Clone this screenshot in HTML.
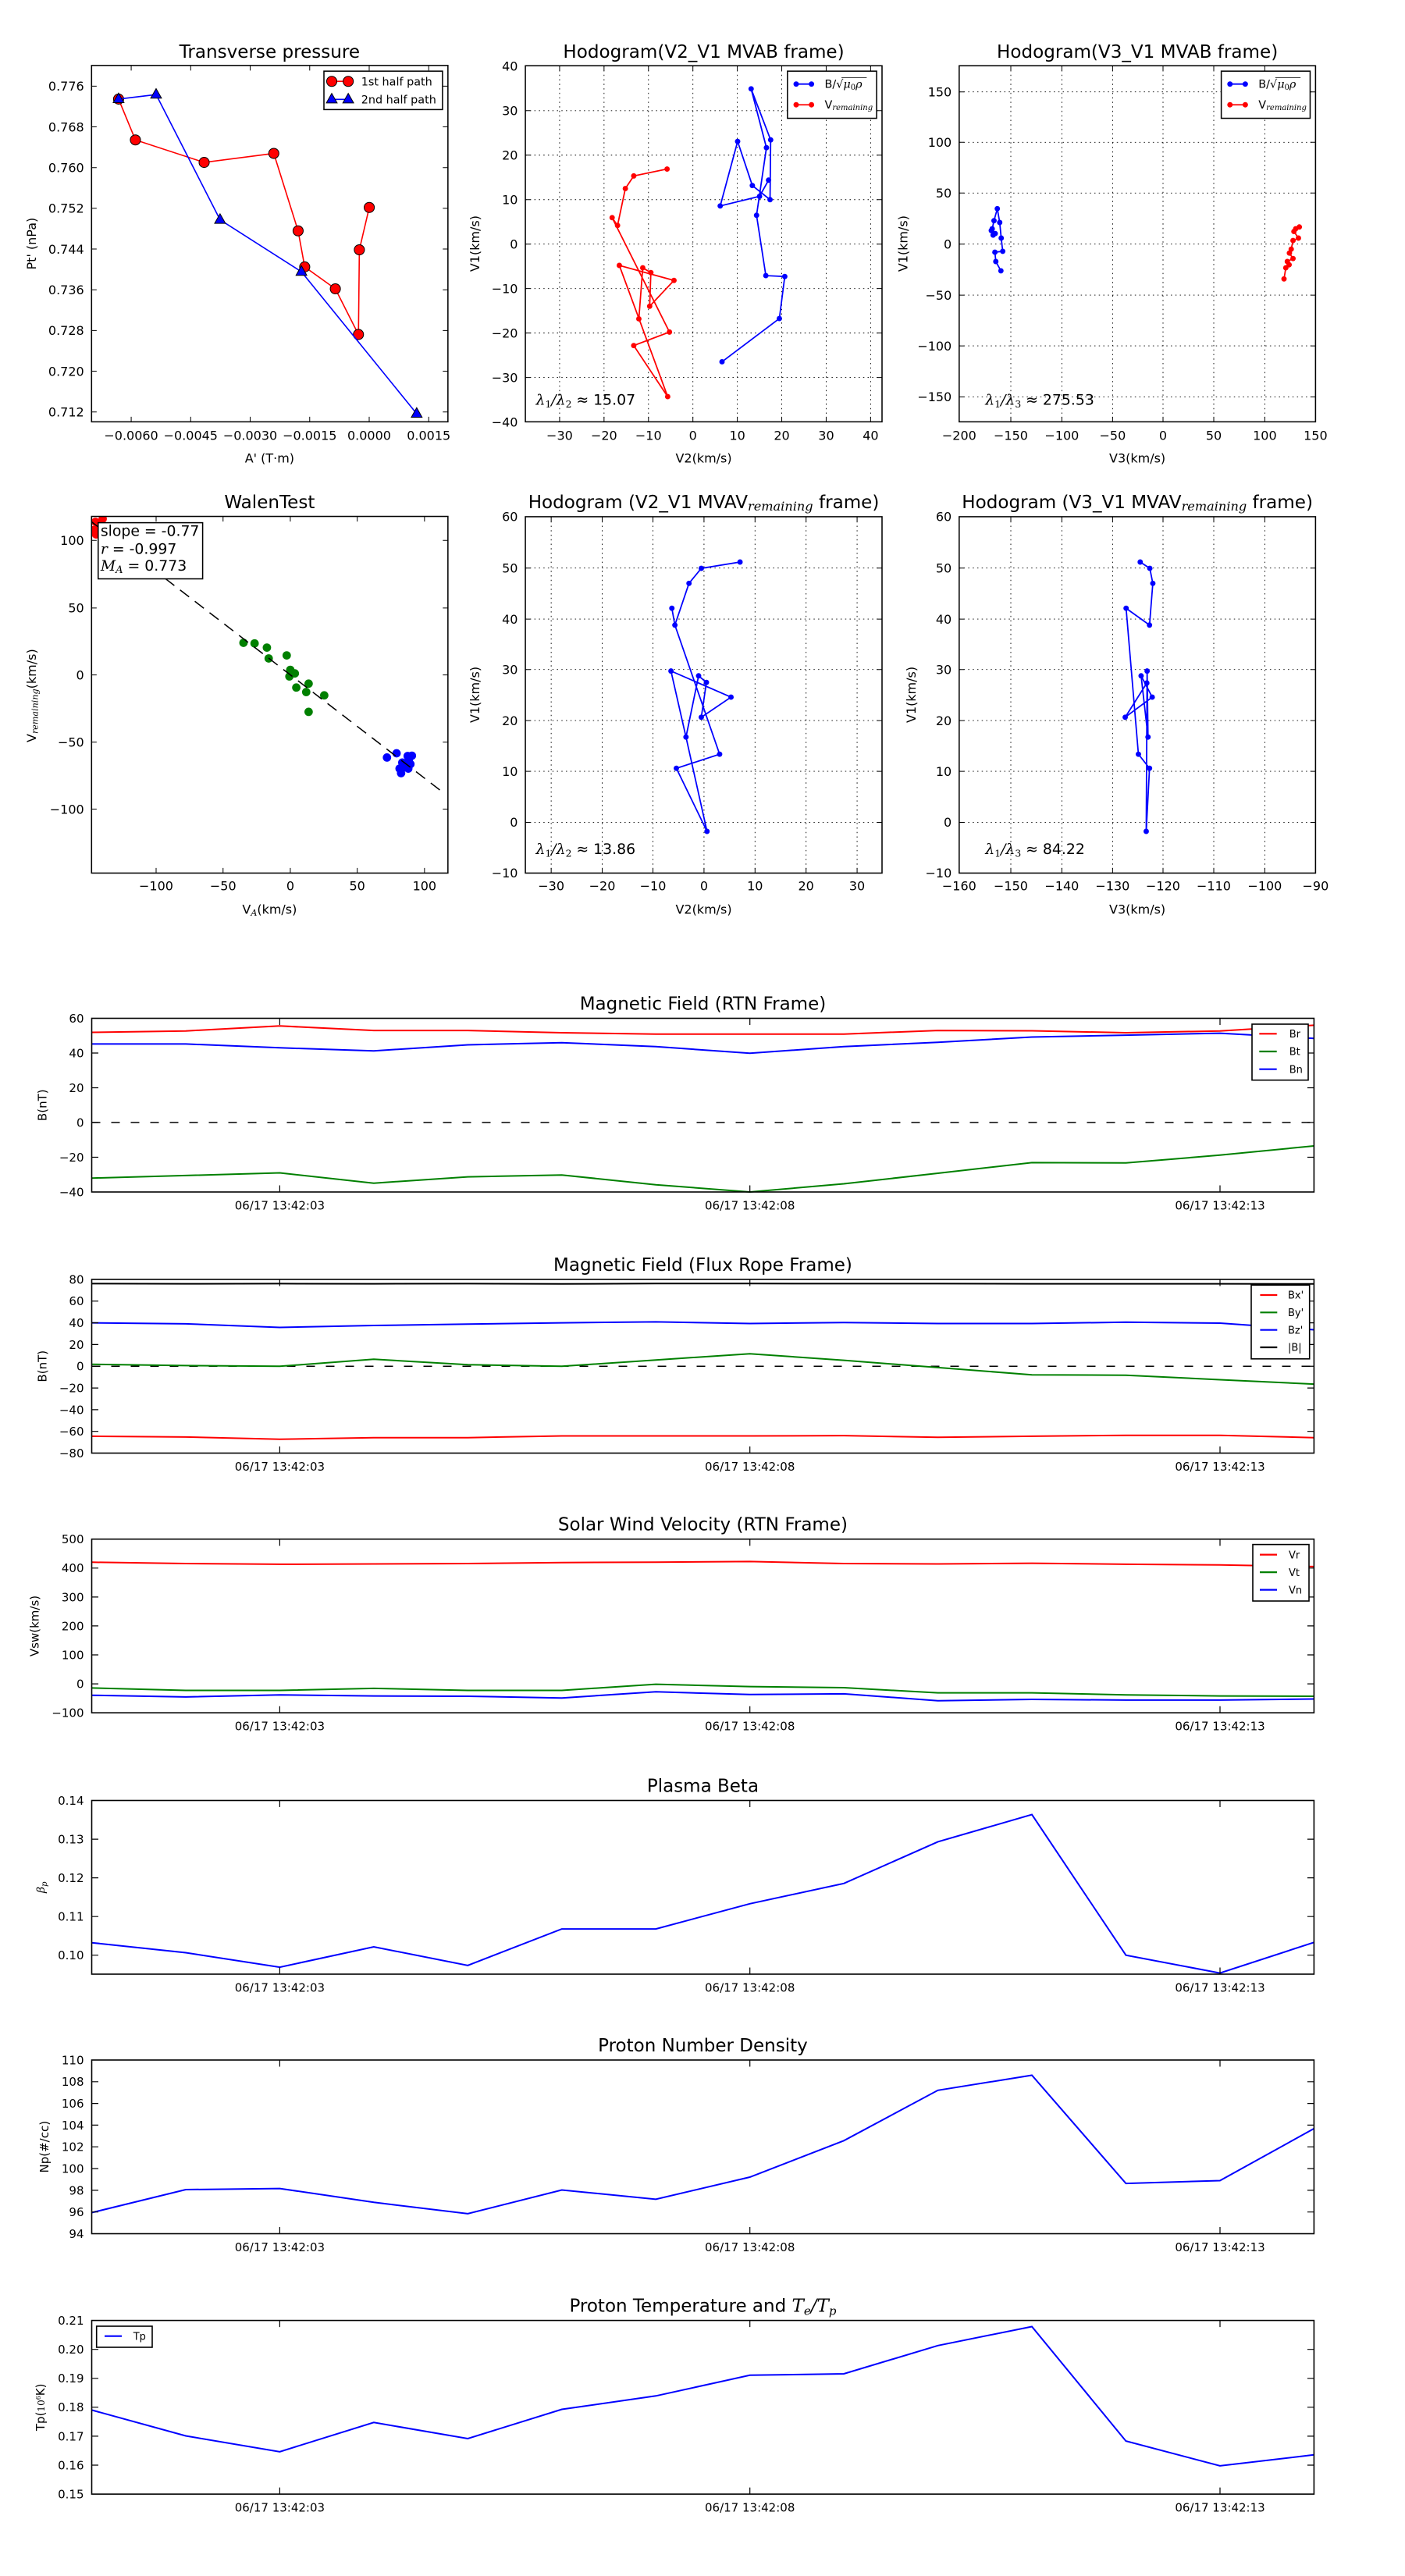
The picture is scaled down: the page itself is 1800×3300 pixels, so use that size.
<!DOCTYPE html>
<html><head><meta charset="utf-8"><style>
html,body{margin:0;padding:0;background:#fff;}
svg{display:block;}
text{font-family:"DejaVu Sans","Liberation Sans",sans-serif;fill:#000;}
.m{font-family:"DejaVu Serif","Liberation Serif",serif;font-style:italic;}
.s{font-family:"DejaVu Serif","Liberation Serif",serif;}
</style></head><body>
<svg width="1800" height="3300" viewBox="0 0 1800 3300" xmlns="http://www.w3.org/2000/svg">
<defs>
<path id="tri" d="M0,-20 L-18,12 L18,12 Z"/>
<clipPath id="c4"><rect x="305" y="160" width="1187" height="1188"/></clipPath>
</defs>
<rect width="1800" height="3300" fill="#fff"/>

<!-- ============ PLOT 1: Transverse pressure ============ -->
<g transform="scale(0.384615)">
<text x="898" y="193" font-size="60" text-anchor="middle">Transverse pressure</text>
<polyline points="1230,691 1197,832 1194,1114 1117,962 1015,889 993,769 912,511 680,541 451,466 395,330" fill="none" stroke="#f00" stroke-width="4.2"/>
<g fill="#f00" stroke="#000" stroke-width="2.6">
<circle cx="1230" cy="691" r="17"/><circle cx="1197" cy="832" r="17"/><circle cx="1194" cy="1114" r="17"/><circle cx="1117" cy="962" r="17"/><circle cx="1015" cy="889" r="17"/><circle cx="993" cy="769" r="17"/><circle cx="912" cy="511" r="17"/><circle cx="680" cy="541" r="17"/><circle cx="451" cy="466" r="17"/><circle cx="395" cy="330" r="17"/>
</g>
<polyline points="395,330 520,315 733,732 1004,905 1388,1378" fill="none" stroke="#00f" stroke-width="4.2"/>
<g fill="#00f" stroke="#000" stroke-width="2.6">
<use href="#tri" x="395" y="330"/><use href="#tri" x="520" y="315"/><use href="#tri" x="733" y="732"/><use href="#tri" x="1004" y="905"/><use href="#tri" x="1388" y="1378"/>
</g>
<rect x="305" y="218" width="1187" height="1187" fill="none" stroke="#000" stroke-width="4"/>
<path d="M437 218v17M437 1405v-17M635.2 218v17M635.2 1405v-17M833.4 218v17M833.4 1405v-17M1031.6 218v17M1031.6 1405v-17M1229.8 218v17M1229.8 1405v-17M1428 218v17M1428 1405v-17
M305 287h17M1492 287h-17M305 422.6h17M1492 422.6h-17M305 558.3h17M1492 558.3h-17M305 693.9h17M1492 693.9h-17M305 829.5h17M1492 829.5h-17M305 965.1h17M1492 965.1h-17M305 1100.8h17M1492 1100.8h-17M305 1236.4h17M1492 1236.4h-17M305 1372h17M1492 1372h-17" stroke="#000" stroke-width="2.6" fill="none"/>
<g font-size="41.6" text-anchor="middle">
<text x="437" y="1465">−0.0060</text><text x="635.2" y="1465">−0.0045</text><text x="833.4" y="1465">−0.0030</text><text x="1031.6" y="1465">−0.0015</text><text x="1229.8" y="1465">0.0000</text><text x="1428" y="1465">0.0015</text>
</g>
<g font-size="41.6" text-anchor="end">
<text x="280" y="302">0.776</text><text x="280" y="437.6">0.768</text><text x="280" y="573.3">0.760</text><text x="280" y="708.9">0.752</text><text x="280" y="844.5">0.744</text><text x="280" y="980.1">0.736</text><text x="280" y="1115.8">0.728</text><text x="280" y="1251.4">0.720</text><text x="280" y="1387">0.712</text>
</g>
<text x="898" y="1540" font-size="41.6" text-anchor="middle">A' (T·m)</text>
<text transform="translate(119.6,811.5) rotate(-90)" font-size="41.6" text-anchor="middle">Pt' (nPa)</text>
<rect x="1079" y="237" width="395" height="128" fill="#fff" stroke="#000" stroke-width="4"/>
<path d="M1105 271H1160" stroke="#f00" stroke-width="4.2"/>
<g fill="#f00" stroke="#000" stroke-width="2.6"><circle cx="1105" cy="271" r="17"/><circle cx="1160" cy="271" r="17"/></g>
<text x="1203" y="285" font-size="37.4">1st half path</text>
<path d="M1105 331H1160" stroke="#00f" stroke-width="4.2"/>
<g fill="#00f" stroke="#000" stroke-width="2.6"><use href="#tri" x="1105" y="331"/><use href="#tri" x="1160" y="331"/></g>
<text x="1203" y="345" font-size="37.4">2nd half path</text>
</g>

<!-- ============ PLOT 2: Hodogram V2_V1 MVAB ============ -->
<g transform="translate(600,0) scale(0.384615)">
<text x="784" y="193" font-size="60" text-anchor="middle">Hodogram(V2_V1 MVAB frame)</text>
<path d="M304 219V1405M452 219V1405M600 219V1405M748 219V1405M896 219V1405M1044 219V1405M1192 219V1405M1340 219V1405
M190 368.7H1378M190 516.8H1378M190 664.9H1378M190 813H1378M190 961.1H1378M190 1109.2H1378M190 1257.3H1378" stroke="#000" stroke-width="2.4" stroke-dasharray="4 11" fill="none"/>
<polyline points="662,563 551,586 523,628 497,751 479,725 670,1106 551,1151 664,1321 503,884 685,934 604,1020 608,908 581,892 568,1062" fill="none" stroke="#f00" stroke-width="4.6"/>
<g fill="#f00">
<circle cx="662" cy="563" r="9"/><circle cx="551" cy="586" r="9"/><circle cx="523" cy="628" r="9"/><circle cx="497" cy="751" r="9"/><circle cx="479" cy="725" r="9"/><circle cx="670" cy="1106" r="9"/><circle cx="551" cy="1151" r="9"/><circle cx="664" cy="1321" r="9"/><circle cx="503" cy="884" r="9"/><circle cx="685" cy="934" r="9"/><circle cx="604" cy="1020" r="9"/><circle cx="608" cy="908" r="9"/><circle cx="581" cy="892" r="9"/><circle cx="568" cy="1062" r="9"/>
</g>
<polyline points="845,1205 1036,1061 1054,921 991,918 960,717 993,492 942,296 1007,466 1005,665 946,618 897,471 839,686 970,654 1000,600" fill="none" stroke="#00f" stroke-width="4.6"/>
<g fill="#00f">
<circle cx="845" cy="1205" r="9"/><circle cx="1036" cy="1061" r="9"/><circle cx="1054" cy="921" r="9"/><circle cx="991" cy="918" r="9"/><circle cx="960" cy="717" r="9"/><circle cx="993" cy="492" r="9"/><circle cx="942" cy="296" r="9"/><circle cx="1007" cy="466" r="9"/><circle cx="1005" cy="665" r="9"/><circle cx="946" cy="618" r="9"/><circle cx="897" cy="471" r="9"/><circle cx="839" cy="686" r="9"/><circle cx="970" cy="654" r="9"/><circle cx="1000" cy="600" r="9"/>
</g>
<rect x="190" y="219" width="1188" height="1186" fill="none" stroke="#000" stroke-width="4"/>
<path d="M304 219v17M304 1405v-17M452 219v17M452 1405v-17M600 219v17M600 1405v-17M748 219v17M748 1405v-17M896 219v17M896 1405v-17M1044 219v17M1044 1405v-17M1192 219v17M1192 1405v-17M1340 219v17M1340 1405v-17
M190 368.7h17M1378 368.7h-17M190 516.8h17M1378 516.8h-17M190 664.9h17M1378 664.9h-17M190 813h17M1378 813h-17M190 961.1h17M1378 961.1h-17M190 1109.2h17M1378 1109.2h-17M190 1257.3h17M1378 1257.3h-17" stroke="#000" stroke-width="2.6" fill="none"/>
<g font-size="41.6" text-anchor="middle">
<text x="304" y="1465">−30</text><text x="452" y="1465">−20</text><text x="600" y="1465">−10</text><text x="748" y="1465">0</text><text x="896" y="1465">10</text><text x="1044" y="1465">20</text><text x="1192" y="1465">30</text><text x="1340" y="1465">40</text>
</g>
<g font-size="41.6" text-anchor="end">
<text x="165" y="235.6">40</text><text x="165" y="383.7">30</text><text x="165" y="531.8">20</text><text x="165" y="679.9">10</text><text x="165" y="828">0</text><text x="165" y="976.1">−10</text><text x="165" y="1124.2">−20</text><text x="165" y="1272.3">−30</text><text x="165" y="1420.4">−40</text>
</g>
<text x="784" y="1540" font-size="41.6" text-anchor="middle">V2(km/s)</text>
<text transform="translate(36.4,811.5) rotate(-90)" font-size="41.6" text-anchor="middle">V1(km/s)</text>
<text x="225" y="1348" font-size="49"><tspan class="m">λ</tspan><tspan class="s" font-size="32" dy="9">1</tspan><tspan class="m" dy="-9">/λ</tspan><tspan class="s" font-size="32" dy="9">2</tspan><tspan dy="-9"> ≈ 15.07</tspan></text>
<rect x="1063" y="237" width="297" height="157" fill="#fff" stroke="#000" stroke-width="4"/>
<path d="M1092 280H1143" stroke="#00f" stroke-width="4.6"/>
<circle cx="1092" cy="280" r="9" fill="#00f"/><circle cx="1143" cy="280" r="9" fill="#00f"/>
<text x="1187" y="292" font-size="37.4">B/<tspan class="s">√</tspan><tspan class="m">μ</tspan><tspan class="s" font-size="26" dy="7">0</tspan><tspan class="m" dy="-7">ρ</tspan></text>
<path d="M1243 259H1327" stroke="#000" stroke-width="2.2"/>
<path d="M1092 349H1143" stroke="#f00" stroke-width="4.6"/>
<circle cx="1092" cy="349" r="9" fill="#f00"/><circle cx="1143" cy="349" r="9" fill="#f00"/>
<text x="1187" y="361" font-size="37.4">V<tspan class="m" font-size="26" dy="6">remaining</tspan></text>
</g>

<!-- ============ PLOT 3: Hodogram V3_V1 MVAB ============ -->
<g transform="translate(1200,0) scale(0.384615)">
<text x="668.5" y="193" font-size="60" text-anchor="middle">Hodogram(V3_V1 MVAB frame)</text>
<path d="M247 219V1405M417 219V1405M586 219V1405M754 219V1405M923 219V1405M1093 219V1405
M75 306H1262M75 474H1262M75 643H1262M75 813H1262M75 983H1262M75 1152H1262M75 1322H1262" stroke="#000" stroke-width="2.4" stroke-dasharray="4 11" fill="none"/>
<polyline points="214,902 197,871 194,840 220,837 215,793 210,741 202,695 191,735 185,762 195,778 188,783 182,768" fill="none" stroke="#00f" stroke-width="4.6"/>
<g fill="#00f">
<circle cx="214" cy="902" r="9"/><circle cx="197" cy="871" r="9"/><circle cx="194" cy="840" r="9"/><circle cx="220" cy="837" r="9"/><circle cx="215" cy="793" r="9"/><circle cx="210" cy="741" r="9"/><circle cx="202" cy="695" r="9"/><circle cx="191" cy="735" r="9"/><circle cx="185" cy="762" r="9"/><circle cx="195" cy="778" r="9"/><circle cx="188" cy="783" r="9"/><circle cx="182" cy="768" r="9"/>
</g>
<polyline points="1157,929 1163,892 1174,882 1168,871 1187,861 1175,843 1181,830 1187,801 1205,793 1190,771 1196,762 1208,756" fill="none" stroke="#f00" stroke-width="4.6"/>
<g fill="#f00">
<circle cx="1157" cy="929" r="9"/><circle cx="1163" cy="892" r="9"/><circle cx="1174" cy="882" r="9"/><circle cx="1168" cy="871" r="9"/><circle cx="1187" cy="861" r="9"/><circle cx="1175" cy="843" r="9"/><circle cx="1181" cy="830" r="9"/><circle cx="1187" cy="801" r="9"/><circle cx="1205" cy="793" r="9"/><circle cx="1190" cy="771" r="9"/><circle cx="1196" cy="762" r="9"/><circle cx="1208" cy="756" r="9"/>
</g>
<rect x="75" y="219" width="1187" height="1186" fill="none" stroke="#000" stroke-width="4"/>
<path d="M247 219v17M247 1405v-17M417 219v17M417 1405v-17M586 219v17M586 1405v-17M754 219v17M754 1405v-17M923 219v17M923 1405v-17M1093 219v17M1093 1405v-17
M75 306h17M1262 306h-17M75 474h17M1262 474h-17M75 643h17M1262 643h-17M75 813h17M1262 813h-17M75 983h17M1262 983h-17M75 1152h17M1262 1152h-17M75 1322h17M1262 1322h-17" stroke="#000" stroke-width="2.6" fill="none"/>
<g font-size="41.6" text-anchor="middle">
<text x="75" y="1465">−200</text><text x="247" y="1465">−150</text><text x="417" y="1465">−100</text><text x="586" y="1465">−50</text><text x="754" y="1465">0</text><text x="923" y="1465">50</text><text x="1093" y="1465">100</text><text x="1262" y="1465">150</text>
</g>
<g font-size="41.6" text-anchor="end">
<text x="50" y="321">150</text><text x="50" y="489">100</text><text x="50" y="658">50</text><text x="50" y="828">0</text><text x="50" y="998">−50</text><text x="50" y="1167">−100</text><text x="50" y="1337">−150</text>
</g>
<text x="668.5" y="1540" font-size="41.6" text-anchor="middle">V3(km/s)</text>
<text transform="translate(-97.5,811.5) rotate(-90)" font-size="41.6" text-anchor="middle">V1(km/s)</text>
<text x="162" y="1348" font-size="49"><tspan class="m">λ</tspan><tspan class="s" font-size="32" dy="9">1</tspan><tspan class="m" dy="-9">/λ</tspan><tspan class="s" font-size="32" dy="9">3</tspan><tspan dy="-9"> ≈ 275.53</tspan></text>
<rect x="948" y="237" width="296" height="157" fill="#fff" stroke="#000" stroke-width="4"/>
<path d="M977 280H1028" stroke="#00f" stroke-width="4.6"/>
<circle cx="977" cy="280" r="9" fill="#00f"/><circle cx="1028" cy="280" r="9" fill="#00f"/>
<text x="1072" y="292" font-size="37.4">B/<tspan class="s">√</tspan><tspan class="m">μ</tspan><tspan class="s" font-size="26" dy="7">0</tspan><tspan class="m" dy="-7">ρ</tspan></text>
<path d="M1128 259H1212" stroke="#000" stroke-width="2.2"/>
<path d="M977 349H1028" stroke="#f00" stroke-width="4.6"/>
<circle cx="977" cy="349" r="9" fill="#f00"/><circle cx="1028" cy="349" r="9" fill="#f00"/>
<text x="1072" y="361" font-size="37.4">V<tspan class="m" font-size="26" dy="6">remaining</tspan></text>
</g>

<!-- ============ PLOT 4: WalenTest ============ -->
<g transform="translate(0,600) scale(0.384615)">
<text x="898" y="133" font-size="60" text-anchor="middle">WalenTest</text>
<g clip-path="url(#c4)">
<g fill="#f00">
<circle cx="313" cy="205" r="14"/><circle cx="330" cy="190" r="14"/><circle cx="342" cy="168" r="14"/><circle cx="320" cy="220" r="14"/><circle cx="318" cy="178" r="14"/><circle cx="335" cy="212" r="14"/>
</g>
<g fill="#008000">
<circle cx="811" cy="581" r="14"/><circle cx="848" cy="583" r="14"/><circle cx="889" cy="597" r="14"/><circle cx="895" cy="633" r="14"/><circle cx="955" cy="623" r="14"/><circle cx="967" cy="671" r="14"/><circle cx="982" cy="683" r="14"/><circle cx="964" cy="693" r="14"/><circle cx="987" cy="730" r="14"/><circle cx="1028" cy="717" r="14"/><circle cx="1020" cy="745" r="14"/><circle cx="1080" cy="756" r="14"/><circle cx="1028" cy="811" r="14"/>
</g>
<g fill="#00f">
<circle cx="1289" cy="963" r="14"/><circle cx="1321" cy="949" r="14"/><circle cx="1358" cy="958" r="14"/><circle cx="1372" cy="957" r="14"/><circle cx="1340" cy="980" r="14"/><circle cx="1367" cy="985" r="14"/><circle cx="1331" cy="1000" r="14"/><circle cx="1336" cy="1015" r="14"/><circle cx="1360" cy="1000" r="14"/><circle cx="1352" cy="990" r="14"/><circle cx="1362" cy="970" r="14"/><circle cx="1345" cy="995" r="14"/>
</g>
<path d="M305 178L1470 1075" stroke="#000" stroke-width="4" stroke-dasharray="38 24" fill="none"/>
</g>
<rect x="305" y="160" width="1187" height="1188" fill="none" stroke="#000" stroke-width="4"/>
<path d="M520 160v17M520 1348v-17M743 160v17M743 1348v-17M967 160v17M967 1348v-17M1190 160v17M1190 1348v-17M1414 160v17M1414 1348v-17
M305 240h17M1492 240h-17M305 465h17M1492 465h-17M305 688h17M1492 688h-17M305 912h17M1492 912h-17M305 1135h17M1492 1135h-17" stroke="#000" stroke-width="2.6" fill="none"/>
<g font-size="41.6" text-anchor="middle">
<text x="520" y="1405">−100</text><text x="743" y="1405">−50</text><text x="967" y="1405">0</text><text x="1190" y="1405">50</text><text x="1414" y="1405">100</text>
</g>
<g font-size="41.6" text-anchor="end">
<text x="280" y="255">100</text><text x="280" y="480">50</text><text x="280" y="703">0</text><text x="280" y="927">−50</text><text x="280" y="1150">−100</text>
</g>
<text x="898" y="1483" font-size="41.6" text-anchor="middle">V<tspan class="m" font-size="29" dy="7">A</tspan><tspan dy="-7">(km/s)</tspan></text>
<text transform="translate(119.6,757) rotate(-90)" font-size="41.6" text-anchor="middle">V<tspan class="m" font-size="29" dy="7">remaining</tspan><tspan dy="-7">(km/s)</tspan></text>
<rect x="327" y="181" width="348" height="187" fill="#fff" stroke="#000" stroke-width="4"/>
<text x="335" y="225" font-size="49">slope = -0.77</text>
<text x="335" y="285" font-size="49"><tspan class="m">r</tspan> = -0.997</text>
<text x="335" y="340" font-size="49"><tspan class="m">M</tspan><tspan class="m" font-size="34" dy="9">A</tspan><tspan dy="-9"> = 0.773</tspan></text>
</g>

<!-- ============ PLOT 5: Hodogram V2_V1 MVAV ============ -->
<g transform="translate(600,600) scale(0.384615)">
<text x="784" y="133" font-size="60" text-anchor="middle">Hodogram (V2_V1 MVAV<tspan class="m" font-size="42" dy="8">remaining</tspan><tspan dy="-8"> frame)</tspan></text>
<path d="M276 161V1348M446 161V1348M615 161V1348M785 161V1348M955 161V1348M1125 161V1348M1295 161V1348
M190 332H1378M190 502H1378M190 670H1378M190 840H1378M190 1009H1378M190 1179H1378" stroke="#000" stroke-width="2.4" stroke-dasharray="4 11" fill="none"/>
<polyline points="905,312 776,333 735,383 688,522 678,466" fill="none" stroke="#00f" stroke-width="4.6"/>
<polyline points="688,522 837,952 693,999 795,1209 725,895 675,675 875,762 776,829 793,713 767,691 725,895" fill="none" stroke="#00f" stroke-width="4.6"/>
<g fill="#00f">
<circle cx="905" cy="312" r="9"/><circle cx="776" cy="333" r="9"/><circle cx="735" cy="383" r="9"/><circle cx="678" cy="466" r="9"/><circle cx="688" cy="522" r="9"/><circle cx="675" cy="675" r="9"/><circle cx="767" cy="691" r="9"/><circle cx="793" cy="713" r="9"/><circle cx="875" cy="762" r="9"/><circle cx="776" cy="829" r="9"/><circle cx="725" cy="895" r="9"/><circle cx="837" cy="952" r="9"/><circle cx="693" cy="999" r="9"/><circle cx="795" cy="1209" r="9"/>
</g>
<rect x="190" y="161" width="1188" height="1187" fill="none" stroke="#000" stroke-width="4"/>
<path d="M276 161v17M276 1348v-17M446 161v17M446 1348v-17M615 161v17M615 1348v-17M785 161v17M785 1348v-17M955 161v17M955 1348v-17M1125 161v17M1125 1348v-17M1295 161v17M1295 1348v-17
M190 332h17M1378 332h-17M190 502h17M1378 502h-17M190 670h17M1378 670h-17M190 840h17M1378 840h-17M190 1009h17M1378 1009h-17M190 1179h17M1378 1179h-17" stroke="#000" stroke-width="2.6" fill="none"/>
<g font-size="41.6" text-anchor="middle">
<text x="276" y="1405">−30</text><text x="446" y="1405">−20</text><text x="615" y="1405">−10</text><text x="785" y="1405">0</text><text x="955" y="1405">10</text><text x="1125" y="1405">20</text><text x="1295" y="1405">30</text>
</g>
<g font-size="41.6" text-anchor="end">
<text x="165" y="176">60</text><text x="165" y="347">50</text><text x="165" y="517">40</text><text x="165" y="685">30</text><text x="165" y="855">20</text><text x="165" y="1024">10</text><text x="165" y="1194">0</text><text x="165" y="1363">−10</text>
</g>
<text x="784" y="1483" font-size="41.6" text-anchor="middle">V2(km/s)</text>
<text transform="translate(36.4,754) rotate(-90)" font-size="41.6" text-anchor="middle">V1(km/s)</text>
<text x="225" y="1285" font-size="49"><tspan class="m">λ</tspan><tspan class="s" font-size="32" dy="9">1</tspan><tspan class="m" dy="-9">/λ</tspan><tspan class="s" font-size="32" dy="9">2</tspan><tspan dy="-9"> ≈ 13.86</tspan></text>
</g>

<!-- ============ PLOT 6: Hodogram V3_V1 MVAV ============ -->
<g transform="translate(1200,600) scale(0.384615)">
<text x="668.5" y="133" font-size="60" text-anchor="middle">Hodogram (V3_V1 MVAV<tspan class="m" font-size="42" dy="8">remaining</tspan><tspan dy="-8"> frame)</tspan></text>
<path d="M247 161V1348M417 161V1348M586 161V1348M754 161V1348M923 161V1348M1093 161V1348
M75 332H1262M75 502H1262M75 670H1262M75 840H1262M75 1009H1262M75 1179H1262" stroke="#000" stroke-width="2.4" stroke-dasharray="4 11" fill="none"/>
<polyline points="678,312 710,333 720,383 709,522 631,466 672,952 709,999 698,1209 701,675 704,895 681,691 718,762 628,829 700,715" fill="none" stroke="#00f" stroke-width="4.6"/>
<g fill="#00f">
<circle cx="678" cy="312" r="9"/><circle cx="710" cy="333" r="9"/><circle cx="720" cy="383" r="9"/><circle cx="709" cy="522" r="9"/><circle cx="631" cy="466" r="9"/><circle cx="672" cy="952" r="9"/><circle cx="709" cy="999" r="9"/><circle cx="698" cy="1209" r="9"/><circle cx="701" cy="675" r="9"/><circle cx="704" cy="895" r="9"/><circle cx="681" cy="691" r="9"/><circle cx="718" cy="762" r="9"/><circle cx="628" cy="829" r="9"/><circle cx="700" cy="715" r="9"/>
</g>
<rect x="75" y="161" width="1187" height="1187" fill="none" stroke="#000" stroke-width="4"/>
<path d="M247 161v17M247 1348v-17M417 161v17M417 1348v-17M586 161v17M586 1348v-17M754 161v17M754 1348v-17M923 161v17M923 1348v-17M1093 161v17M1093 1348v-17
M75 332h17M1262 332h-17M75 502h17M1262 502h-17M75 670h17M1262 670h-17M75 840h17M1262 840h-17M75 1009h17M1262 1009h-17M75 1179h17M1262 1179h-17" stroke="#000" stroke-width="2.6" fill="none"/>
<g font-size="41.6" text-anchor="middle">
<text x="75" y="1405">−160</text><text x="247" y="1405">−150</text><text x="417" y="1405">−140</text><text x="586" y="1405">−130</text><text x="754" y="1405">−120</text><text x="923" y="1405">−110</text><text x="1093" y="1405">−100</text><text x="1262" y="1405">−90</text>
</g>
<g font-size="41.6" text-anchor="end">
<text x="50" y="176">60</text><text x="50" y="347">50</text><text x="50" y="517">40</text><text x="50" y="685">30</text><text x="50" y="855">20</text><text x="50" y="1024">10</text><text x="50" y="1194">0</text><text x="50" y="1363">−10</text>
</g>
<text x="668.5" y="1483" font-size="41.6" text-anchor="middle">V3(km/s)</text>
<text transform="translate(-70.2,754) rotate(-90)" font-size="41.6" text-anchor="middle">V1(km/s)</text>
<text x="162" y="1285" font-size="49"><tspan class="m">λ</tspan><tspan class="s" font-size="32" dy="9">1</tspan><tspan class="m" dy="-9">/λ</tspan><tspan class="s" font-size="32" dy="9">3</tspan><tspan dy="-9"> ≈ 84.22</tspan></text>
</g>

<!-- ============ TIME SERIES ============ -->
<!-- P1 Magnetic Field RTN -->
<g>
<text x="900.45" y="1293.5" font-size="23" text-anchor="middle">Magnetic Field (RTN Frame)</text>
<path d="M117.5 1438H1683.4" stroke="#000" stroke-width="1.5" stroke-dasharray="11 14"/>
<g fill="none" stroke-width="2">
<polyline stroke="#f00" points="117.5,1322.5 237.95,1320.7 358.4,1314.3 478.85,1320.1 599.3,1320.1 719.75,1323.0 840.2,1324.7 960.65,1324.7 1081.1,1324.7 1201.55,1320.1 1322,1320.5 1442.45,1323.0 1562.9,1320.7 1683.35,1313.4"/>
<polyline stroke="#008000" points="117.5,1509.2 237.95,1505.9 358.4,1502.5 478.85,1515.7 599.3,1507.6 719.75,1505.2 840.2,1517.7 960.65,1527.0 1081.1,1516.5 1201.55,1503.0 1322,1489.4 1442.45,1489.8 1562.9,1479.8 1683.35,1468.0"/>
<polyline stroke="#00f" points="117.5,1337.4 237.95,1337.4 358.4,1342.3 478.85,1346.2 599.3,1338.5 719.75,1335.7 840.2,1340.8 960.65,1349.2 1081.1,1340.8 1201.55,1335.2 1322,1328.5 1442.45,1326.1 1562.9,1323.6 1683.35,1330.3"/>
</g>
<rect x="117.5" y="1304.5" width="1565.9" height="222.5" fill="none" stroke="#000" stroke-width="1.6"/>
<path d="M358.4 1304.5v8.5M358.4 1527v-8.5M960.7 1304.5v8.5M960.7 1527v-8.5M1563 1304.5v8.5M1563 1527v-8.5
M117.5 1349h8.5M1683.4 1349h-8.5M117.5 1393.5h8.5M1683.4 1393.5h-8.5M117.5 1438h8.5M1683.4 1438h-8.5M117.5 1482.5h8.5M1683.4 1482.5h-8.5" stroke="#000" stroke-width="1.2" fill="none"/>
<g font-size="15" text-anchor="end">
<text x="107.5" y="1309.9">60</text><text x="107.5" y="1354.4">40</text><text x="107.5" y="1398.9">20</text><text x="107.5" y="1443.4">0</text><text x="107.5" y="1487.9">−20</text><text x="107.5" y="1532.4">−40</text>
</g>
<g font-size="15" text-anchor="middle">
<text x="358.4" y="1549.3">06/17 13:42:03</text><text x="960.7" y="1549.3">06/17 13:42:08</text><text x="1563" y="1549.3">06/17 13:42:13</text>
</g>
<text transform="translate(59.5,1415.75) rotate(-90)" font-size="15" text-anchor="middle">B(nT)</text>
<rect x="1604" y="1312" width="72" height="71.7" fill="#fff" stroke="#000" stroke-width="1.6"/>
<path d="M1613.3 1324.3H1635.7" stroke="#f00" stroke-width="2.2"/>
<path d="M1613.3 1347H1635.7" stroke="#008000" stroke-width="2.2"/>
<path d="M1613.3 1369.7H1635.7" stroke="#00f" stroke-width="2.2"/>
<g font-size="13"><text x="1651.7" y="1329">Br</text><text x="1651.7" y="1351.7">Bt</text><text x="1651.7" y="1374.4">Bn</text></g>
</g>

<!-- P2 Magnetic Field Flux Rope -->
<g transform="translate(0,0.9)">
<text x="900.45" y="1627.1" font-size="23" text-anchor="middle">Magnetic Field (Flux Rope Frame)</text>
<path d="M117.5 1749.35H1683.4" stroke="#000" stroke-width="1.5" stroke-dasharray="11 14"/>
<g fill="none" stroke-width="2">
<polyline stroke="#f00" points="117.5,1839.0 237.95,1840.0 358.4,1842.9 478.85,1840.8 599.3,1840.8 719.75,1838.6 840.2,1838.6 960.65,1838.6 1081.1,1838.2 1201.55,1840.4 1322,1839.0 1442.45,1837.8 1562.9,1837.8 1683.35,1840.8"/>
<polyline stroke="#008000" points="117.5,1746.8 237.95,1748.5 358.4,1749.4 478.85,1740.4 599.3,1747.3 719.75,1749.4 840.2,1741.3 960.65,1733.4 1081.1,1741.7 1201.55,1751.0 1322,1760.3 1442.45,1760.8 1562.9,1766.6 1683.35,1772.2"/>
<polyline stroke="#00f" points="117.5,1693.7 237.95,1695.0 358.4,1699.6 478.85,1697.1 599.3,1695.4 719.75,1693.7 840.2,1692.5 960.65,1694.6 1081.1,1693.3 1201.55,1694.6 1322,1694.6 1442.45,1692.9 1562.9,1694.1 1683.35,1702.6"/>
<polyline stroke="#000" points="117.5,1643.5 237.95,1643.7 358.4,1643.5 478.85,1643.7 599.3,1643.5 719.75,1643.9 840.2,1643.4 960.65,1643.4 1081.1,1643.5 1201.55,1643.5 1322,1643.7 1442.45,1643.7 1562.9,1643.7 1683.35,1643.9"/>
</g>
<rect x="117.5" y="1638.1" width="1565.9" height="222.5" fill="none" stroke="#000" stroke-width="1.6"/>
<path d="M358.4 1638.1v8.5M358.4 1860.6v-8.5M960.7 1638.1v8.5M960.7 1860.6v-8.5M1563 1638.1v8.5M1563 1860.6v-8.5
M117.5 1665.9h8.5M1683.4 1665.9h-8.5M117.5 1693.7h8.5M1683.4 1693.7h-8.5M117.5 1721.5h8.5M1683.4 1721.5h-8.5M117.5 1749.35h8.5M1683.4 1749.35h-8.5M117.5 1777.2h8.5M1683.4 1777.2h-8.5M117.5 1805h8.5M1683.4 1805h-8.5M117.5 1832.8h8.5M1683.4 1832.8h-8.5" stroke="#000" stroke-width="1.2" fill="none"/>
<g font-size="15" text-anchor="end">
<text x="107.5" y="1643.5">80</text><text x="107.5" y="1671.3">60</text><text x="107.5" y="1699.1">40</text><text x="107.5" y="1726.9">20</text><text x="107.5" y="1754.75">0</text><text x="107.5" y="1782.6">−20</text><text x="107.5" y="1810.4">−40</text><text x="107.5" y="1838.2">−60</text><text x="107.5" y="1866">−80</text>
</g>
<g font-size="15" text-anchor="middle">
<text x="358.4" y="1882.9">06/17 13:42:03</text><text x="960.7" y="1882.9">06/17 13:42:08</text><text x="1563" y="1882.9">06/17 13:42:13</text>
</g>
<text transform="translate(59.5,1749.35) rotate(-90)" font-size="15" text-anchor="middle">B(nT)</text>
<rect x="1603" y="1645.4" width="74.7" height="94.5" fill="#fff" stroke="#000" stroke-width="1.6"/>
<path d="M1614.4 1658.1H1636.3" stroke="#f00" stroke-width="2.2"/>
<path d="M1614.4 1680.4H1636.3" stroke="#008000" stroke-width="2.2"/>
<path d="M1614.4 1702.8H1636.3" stroke="#00f" stroke-width="2.2"/>
<path d="M1614.4 1725.1H1636.3" stroke="#000" stroke-width="2.2"/>
<g font-size="13"><text x="1650" y="1662.8">Bx'</text><text x="1650" y="1685.1">By'</text><text x="1650" y="1707.5">Bz'</text><text x="1650" y="1729.8">|B|</text></g>
</g>

<!-- P3 Solar Wind Velocity -->
<g>
<text x="900.45" y="1960.7" font-size="23" text-anchor="middle">Solar Wind Velocity (RTN Frame)</text>
<g fill="none" stroke-width="2">
<polyline stroke="#f00" points="117.5,2001.3 237.95,2003.0 358.4,2003.9 478.85,2003.5 599.3,2003.0 719.75,2001.7 840.2,2001.3 960.65,2000.4 1081.1,2003.0 1201.55,2003.5 1322,2002.6 1442.45,2003.9 1562.9,2004.8 1683.35,2006.9"/>
<polyline stroke="#008000" points="117.5,2162.4 237.95,2165.5 358.4,2165.5 478.85,2162.9 599.3,2165.5 719.75,2165.5 840.2,2157.6 960.65,2160.6 1081.1,2162.0 1201.55,2168.6 1322,2168.6 1442.45,2171.2 1562.9,2172.6 1683.35,2173.0"/>
<polyline stroke="#00f" points="117.5,2171.7 237.95,2173.9 358.4,2171.2 478.85,2172.6 599.3,2173.0 719.75,2175.2 840.2,2167.3 960.65,2170.8 1081.1,2169.9 1201.55,2178.7 1322,2177.0 1442.45,2177.9 1562.9,2177.9 1683.35,2176.5"/>
</g>
<rect x="117.5" y="1971.7" width="1565.9" height="222.5" fill="none" stroke="#000" stroke-width="1.6"/>
<path d="M358.4 1971.7v8.5M358.4 2194.2v-8.5M960.7 1971.7v8.5M960.7 2194.2v-8.5M1563 1971.7v8.5M1563 2194.2v-8.5
M117.5 2008.8h8.5M1683.4 2008.8h-8.5M117.5 2045.9h8.5M1683.4 2045.9h-8.5M117.5 2082.9h8.5M1683.4 2082.9h-8.5M117.5 2120h8.5M1683.4 2120h-8.5M117.5 2157.1h8.5M1683.4 2157.1h-8.5" stroke="#000" stroke-width="1.2" fill="none"/>
<g font-size="15" text-anchor="end">
<text x="107.5" y="1977.1">500</text><text x="107.5" y="2014.2">400</text><text x="107.5" y="2051.3">300</text><text x="107.5" y="2088.3">200</text><text x="107.5" y="2125.4">100</text><text x="107.5" y="2162.5">0</text><text x="107.5" y="2199.6">−100</text>
</g>
<g font-size="15" text-anchor="middle">
<text x="358.4" y="2216.5">06/17 13:42:03</text><text x="960.7" y="2216.5">06/17 13:42:08</text><text x="1563" y="2216.5">06/17 13:42:13</text>
</g>
<text transform="translate(49.3,2083) rotate(-90)" font-size="15" text-anchor="middle">Vsw(km/s)</text>
<rect x="1605" y="1978.6" width="72" height="72.4" fill="#fff" stroke="#000" stroke-width="1.6"/>
<path d="M1614 1991.6H1636" stroke="#f00" stroke-width="2.2"/>
<path d="M1614 2014.1H1636" stroke="#008000" stroke-width="2.2"/>
<path d="M1614 2036.6H1636" stroke="#00f" stroke-width="2.2"/>
<g font-size="13"><text x="1651" y="1996.3">Vr</text><text x="1651" y="2018.8">Vt</text><text x="1651" y="2041.3">Vn</text></g>
</g>

<!-- P4 Plasma Beta -->
<g transform="translate(0,1.1)">
<text x="900.45" y="2294.4" font-size="23" text-anchor="middle">Plasma Beta</text>
<polyline fill="none" stroke="#00f" stroke-width="2" points="117.5,2487.6 237.95,2500.4 358.4,2519.0 478.85,2492.9 599.3,2516.7 719.75,2470.0 840.2,2470.0 960.65,2437.7 1081.1,2411.7 1201.55,2358.3 1322,2323.5 1442.45,2503.6 1562.9,2526.5 1683.35,2487.2"/>
<rect x="117.5" y="2305.4" width="1565.9" height="222.5" fill="none" stroke="#000" stroke-width="1.6"/>
<path d="M358.4 2305.4v8.5M358.4 2527.9v-8.5M960.7 2305.4v8.5M960.7 2527.9v-8.5M1563 2305.4v8.5M1563 2527.9v-8.5
M117.5 2355h8.5M1683.4 2355h-8.5M117.5 2404.5h8.5M1683.4 2404.5h-8.5M117.5 2454.1h8.5M1683.4 2454.1h-8.5M117.5 2503.6h8.5M1683.4 2503.6h-8.5" stroke="#000" stroke-width="1.2" fill="none"/>
<g font-size="15" text-anchor="end">
<text x="107.5" y="2310.8">0.14</text><text x="107.5" y="2360.4">0.13</text><text x="107.5" y="2409.9">0.12</text><text x="107.5" y="2459.5">0.11</text><text x="107.5" y="2509">0.10</text>
</g>
<g font-size="15" text-anchor="middle">
<text x="358.4" y="2550.2">06/17 13:42:03</text><text x="960.7" y="2550.2">06/17 13:42:08</text><text x="1563" y="2550.2">06/17 13:42:13</text>
</g>
<text transform="translate(57,2416.6) rotate(-90)" font-size="14" text-anchor="middle"><tspan class="m">β</tspan><tspan class="m" font-size="10" dy="3">p</tspan></text>
</g>

<!-- P5 Proton Number Density -->
<g>
<text x="900.45" y="2628" font-size="23" text-anchor="middle">Proton Number Density</text>
<polyline fill="none" stroke="#00f" stroke-width="2" points="117.5,2834.5 237.95,2805.0 358.4,2803.6 478.85,2821.3 599.3,2835.9 719.75,2805.5 840.2,2817.4 960.65,2789.0 1081.1,2742.3 1201.55,2677.8 1322,2658.5 1442.45,2797.1 1562.9,2793.5 1683.35,2726.9"/>
<rect x="117.5" y="2639" width="1565.9" height="222.5" fill="none" stroke="#000" stroke-width="1.6"/>
<path d="M358.4 2639v8.5M358.4 2861.5v-8.5M960.7 2639v8.5M960.7 2861.5v-8.5M1563 2639v8.5M1563 2861.5v-8.5
M117.5 2666.8h8.5M1683.4 2666.8h-8.5M117.5 2694.6h8.5M1683.4 2694.6h-8.5M117.5 2722.4h8.5M1683.4 2722.4h-8.5M117.5 2750.2h8.5M1683.4 2750.2h-8.5M117.5 2778.1h8.5M1683.4 2778.1h-8.5M117.5 2805.9h8.5M1683.4 2805.9h-8.5M117.5 2833.7h8.5M1683.4 2833.7h-8.5" stroke="#000" stroke-width="1.2" fill="none"/>
<g font-size="15" text-anchor="end">
<text x="107.5" y="2644.4">110</text><text x="107.5" y="2672.2">108</text><text x="107.5" y="2700">106</text><text x="107.5" y="2727.8">104</text><text x="107.5" y="2755.6">102</text><text x="107.5" y="2783.5">100</text><text x="107.5" y="2811.3">98</text><text x="107.5" y="2839.1">96</text><text x="107.5" y="2866.9">94</text>
</g>
<g font-size="15" text-anchor="middle">
<text x="358.4" y="2883.8">06/17 13:42:03</text><text x="960.7" y="2883.8">06/17 13:42:08</text><text x="1563" y="2883.8">06/17 13:42:13</text>
</g>
<text transform="translate(62,2750.2) rotate(-90)" font-size="15" text-anchor="middle">Np(#/cc)</text>
</g>

<!-- P6 Proton Temperature -->
<g>
<text x="900.45" y="2961.6" font-size="23" text-anchor="middle">Proton Temperature and <tspan class="m">T</tspan><tspan class="m" font-size="15" dy="4">e</tspan><tspan class="m" dy="-4">/T</tspan><tspan class="m" font-size="15" dy="4">p</tspan></text>
<polyline fill="none" stroke="#00f" stroke-width="2" points="117.5,3087.4 237.95,3120.5 358.4,3140.8 478.85,3103.3 599.3,3124.0 719.75,3086.5 840.2,3069.3 960.65,3042.8 1081.1,3041.0 1201.55,3004.8 1322,2980.5 1442.45,3127.1 1562.9,3158.9 1683.35,3144.8"/>
<rect x="117.5" y="2972.6" width="1565.9" height="222.5" fill="none" stroke="#000" stroke-width="1.6"/>
<path d="M358.4 2972.6v8.5M358.4 3195.1v-8.5M960.7 2972.6v8.5M960.7 3195.1v-8.5M1563 2972.6v8.5M1563 3195.1v-8.5
M117.5 3009.7h8.5M1683.4 3009.7h-8.5M117.5 3046.8h8.5M1683.4 3046.8h-8.5M117.5 3083.8h8.5M1683.4 3083.8h-8.5M117.5 3120.9h8.5M1683.4 3120.9h-8.5M117.5 3158h8.5M1683.4 3158h-8.5" stroke="#000" stroke-width="1.2" fill="none"/>
<g font-size="15" text-anchor="end">
<text x="107.5" y="2978">0.21</text><text x="107.5" y="3015.1">0.20</text><text x="107.5" y="3052.2">0.19</text><text x="107.5" y="3089.2">0.18</text><text x="107.5" y="3126.3">0.17</text><text x="107.5" y="3163.4">0.16</text><text x="107.5" y="3200.5">0.15</text>
</g>
<g font-size="15" text-anchor="middle">
<text x="358.4" y="3217.4">06/17 13:42:03</text><text x="960.7" y="3217.4">06/17 13:42:08</text><text x="1563" y="3217.4">06/17 13:42:13</text>
</g>
<text transform="translate(57,3083.8) rotate(-90)" font-size="15" text-anchor="middle">Tp(<tspan class="s" font-size="12">10</tspan><tspan class="s" font-size="8" dy="-5">6</tspan><tspan dy="5">K)</tspan></text>
<rect x="123.7" y="2980" width="71.3" height="27" fill="#fff" stroke="#000" stroke-width="1.6"/>
<path d="M134 2992.7H156" stroke="#00f" stroke-width="2.2"/>
<text x="170.7" y="2997.4" font-size="13">Tp</text>
</g>
</svg>
</body></html>
